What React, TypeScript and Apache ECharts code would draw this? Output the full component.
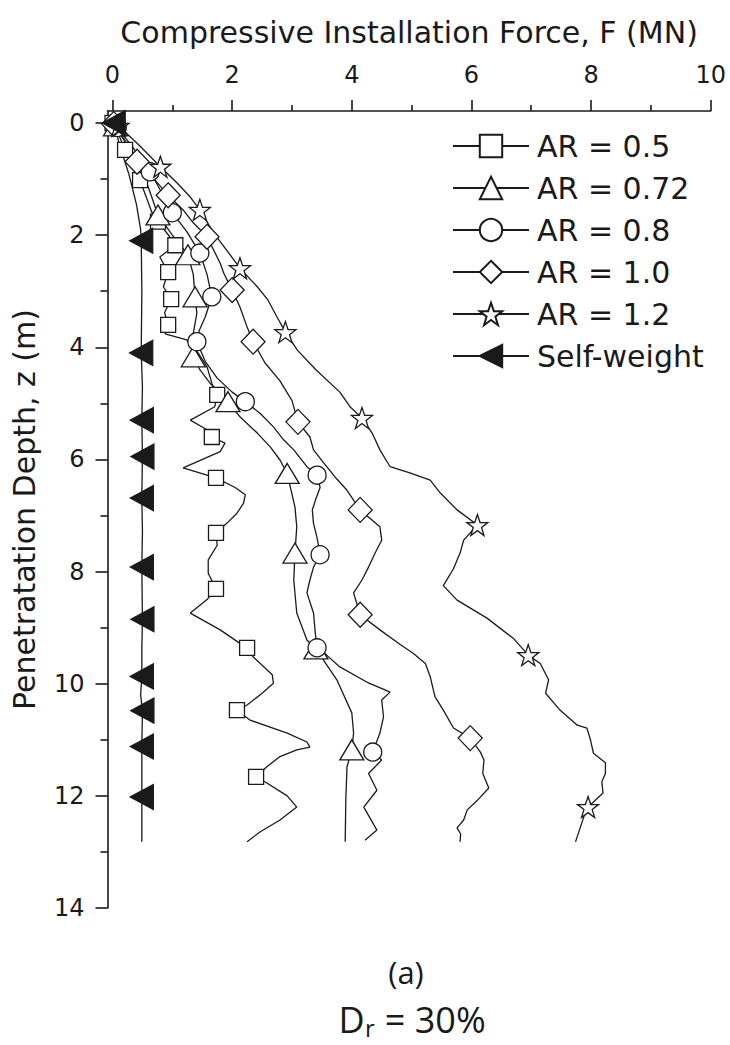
import React, { useEffect, useRef } from "react";
import * as echarts from "echarts";

// ---------- data: [F (MN), z (m), marker flag] ----------
const ar05: number[][] = [
  [0, 0, 1], [0.08, 0.15, 0], [0.21, 0.48, 1], [0.33, 0.78, 0], [0.46, 1.02, 1], [0.58, 1.37, 0], [0.66, 1.6, 0],
  [0.76, 1.76, 1], [0.95, 2.02, 0], [1.05, 2.18, 1], [0.79, 2.39, 0], [0.93, 2.66, 1], [0.85, 2.92, 0],
  [0.98, 3.14, 1], [0.87, 3.38, 0], [0.93, 3.6, 1], [0.88, 3.76, 0], [1.24, 3.87, 0], [1.43, 4.1, 0],
  [1.58, 4.35, 0], [1.66, 4.64, 0], [1.75, 4.85, 1], [1.71, 5.06, 0], [1.3, 5.3, 0], [1.58, 5.47, 0],
  [1.66, 5.6, 1], [1.88, 5.71, 0], [1.8, 5.86, 0], [1.18, 6.15, 0], [1.73, 6.33, 1], [2.05, 6.5, 0],
  [2.22, 6.63, 0], [2.19, 6.78, 0], [2.08, 6.96, 0], [1.91, 7.14, 0], [1.73, 7.31, 1], [1.75, 7.53, 0],
  [1.6, 7.79, 0], [1.6, 8.03, 0], [1.73, 8.31, 1], [1.58, 8.5, 0], [1.3, 8.74, 0], [1.8, 9.04, 0],
  [2.13, 9.28, 0], [2.25, 9.36, 1], [2.35, 9.52, 0], [2.67, 9.84, 0], [2.69, 9.99, 0], [2.5, 10.17, 0],
  [2.25, 10.38, 0], [2.08, 10.47, 1], [2.3, 10.65, 0], [2.92, 10.88, 0], [3.25, 11.04, 0], [3.3, 11.13, 0],
  [3.08, 11.18, 0], [2.8, 11.3, 0], [2.58, 11.48, 0], [2.4, 11.66, 1], [2.58, 11.77, 0], [2.92, 12.0, 0],
  [3.08, 12.2, 0], [2.8, 12.43, 0], [2.47, 12.64, 0], [2.25, 12.82, 0],
];

const ar072: number[][] = [
  [0.05, 0.05, 1], [0.3, 0.5, 0], [0.55, 1.0, 0], [0.76, 1.64, 1], [1.0, 2.0, 0], [1.26, 2.35, 1],
  [1.35, 2.7, 0], [1.38, 3.1, 1], [1.41, 3.39, 0], [1.35, 3.75, 0], [1.35, 4.17, 1], [1.46, 4.4, 0],
  [1.63, 4.64, 0], [1.8, 4.82, 0], [1.93, 4.97, 1], [2.13, 5.24, 0], [2.42, 5.53, 0], [2.64, 5.78, 0],
  [2.8, 6.01, 0], [2.92, 6.25, 1], [3.05, 6.85, 0], [3.08, 7.2, 0], [3.05, 7.67, 1], [3.03, 8.15, 0],
  [3.08, 8.74, 0], [3.25, 9.22, 0], [3.4, 9.38, 1], [3.75, 9.93, 0], [4.0, 10.52, 0], [4.03, 10.88, 0],
  [4.0, 11.18, 1], [3.92, 11.48, 0], [3.9, 12.07, 0], [3.89, 12.82, 0],
];

const ar08: number[][] = [
  [0.08, 0.08, 1], [0.35, 0.45, 0], [0.63, 0.87, 1], [0.8, 1.2, 0], [1.0, 1.6, 1], [1.25, 1.95, 0],
  [1.46, 2.32, 1], [1.58, 2.7, 0], [1.66, 3.1, 1], [1.55, 3.46, 0], [1.45, 3.7, 0], [1.41, 3.9, 1],
  [1.55, 4.25, 0], [1.75, 4.55, 0], [2.0, 4.8, 0], [2.22, 4.97, 1], [2.47, 5.18, 0], [2.69, 5.42, 0],
  [2.86, 5.65, 0], [3.03, 5.83, 0], [3.25, 6.13, 0], [3.42, 6.28, 1], [3.47, 6.5, 0], [3.4, 6.7, 0],
  [3.34, 6.9, 0], [3.36, 7.14, 0], [3.42, 7.4, 0], [3.47, 7.7, 1], [3.36, 7.92, 0], [3.3, 8.15, 0],
  [3.25, 8.38, 0], [3.36, 8.74, 0], [3.39, 9.1, 0], [3.42, 9.36, 1], [3.58, 9.49, 0], [3.8, 9.7, 0],
  [4.25, 9.97, 0], [4.64, 10.15, 0], [4.5, 10.29, 0], [4.53, 10.59, 0], [4.47, 10.88, 0], [4.35, 11.22, 1],
  [4.5, 11.36, 0], [4.28, 11.6, 0], [4.42, 11.9, 0], [4.2, 12.2, 0], [4.42, 12.61, 0], [4.22, 12.79, 0],
];

const ar10: number[][] = [
  [0.02, 0.02, 1], [0.2, 0.3, 0], [0.41, 0.69, 1], [0.68, 0.98, 0], [0.93, 1.29, 1], [1.18, 1.55, 0],
  [1.35, 1.78, 0], [1.58, 2.03, 1], [1.8, 2.5, 0], [1.86, 2.68, 0], [2.0, 2.98, 1], [2.13, 3.28, 0],
  [2.25, 3.64, 0], [2.35, 3.9, 1], [2.55, 4.28, 0], [2.8, 4.6, 0], [3.0, 4.95, 0], [3.1, 5.33, 1],
  [3.3, 5.6, 0], [3.36, 5.83, 0], [3.53, 6.06, 0], [3.75, 6.35, 0], [3.92, 6.55, 0], [4.14, 6.9, 1],
  [4.47, 7.2, 0], [4.5, 7.44, 0], [4.39, 7.67, 0], [4.28, 7.92, 0], [4.17, 8.15, 0], [4.03, 8.38, 0],
  [4.14, 8.77, 1], [4.47, 9.04, 0], [4.81, 9.3, 0], [5.03, 9.46, 0], [5.23, 9.64, 0], [5.31, 9.87, 0],
  [5.39, 10.23, 0], [5.53, 10.47, 0], [5.7, 10.79, 0], [5.98, 10.97, 1], [6.15, 11.22, 0], [6.21, 11.36, 0],
  [6.19, 11.6, 0], [6.29, 11.86, 0], [6.1, 12.08, 0], [5.93, 12.25, 0], [5.87, 12.43, 0], [5.76, 12.57, 0],
  [5.82, 12.68, 0], [5.81, 12.82, 0],
];

const ar12: number[][] = [
  [0.1, 0.05, 1], [0.45, 0.4, 0], [0.8, 0.78, 1], [1.08, 1.07, 0], [1.3, 1.32, 0], [1.46, 1.55, 1],
  [1.69, 1.96, 0], [1.91, 2.27, 0], [2.13, 2.59, 1], [2.42, 2.92, 0], [2.6, 3.16, 0], [2.75, 3.46, 0],
  [2.89, 3.73, 1], [3.09, 4.05, 0], [3.4, 4.4, 0], [3.8, 4.8, 0], [3.97, 5.06, 0], [4.17, 5.26, 1],
  [4.34, 5.53, 0], [4.47, 5.83, 0], [4.64, 6.13, 0], [4.97, 6.24, 0], [5.31, 6.37, 0], [5.48, 6.6, 0],
  [5.76, 6.9, 0], [6.1, 7.17, 1], [5.87, 7.44, 0], [5.81, 7.67, 0], [5.7, 7.95, 0], [5.53, 8.25, 0],
  [5.76, 8.51, 0], [6.26, 8.83, 0], [6.71, 9.2, 0], [6.95, 9.49, 1], [7.15, 9.64, 0], [7.29, 9.93, 0],
  [7.24, 10.17, 0], [7.48, 10.47, 0], [7.77, 10.74, 0], [7.93, 10.79, 0], [7.99, 11.0, 0], [8.04, 11.24, 0],
  [8.24, 11.41, 0], [8.24, 11.6, 0], [8.18, 11.75, 0], [8.2, 11.95, 0], [7.95, 12.2, 1], [7.88, 12.37, 0],
  [7.74, 12.82, 0],
];

const selfWeight: number[][] = [
  [0.02, 0.0, 1], [0.12, 0.4, 0], [0.27, 0.9, 0], [0.4, 1.45, 0], [0.47, 1.9, 0], [0.48, 2.1, 1],
  [0.49, 3.0, 0], [0.48, 4.1, 1], [0.5, 4.7, 0], [0.49, 5.3, 1], [0.5, 5.95, 1], [0.49, 6.69, 1],
  [0.5, 7.3, 0], [0.49, 7.92, 1], [0.5, 8.85, 1], [0.49, 9.4, 0], [0.49, 9.87, 1], [0.47, 10.2, 0],
  [0.5, 10.48, 1], [0.49, 11.12, 1], [0.49, 12.02, 1], [0.49, 12.82, 0],
];

const seriesNames = ["AR = 0.5", "AR = 0.72", "AR = 0.8", "AR = 1.0", "AR = 1.2", "Self-weight"];
const xTickMin = 0;
const xTickMax = 10;
const xTickStep = 2;
const yTickMin = 0;
const yTickMax = 14;
const yTickStep = 2;

const xTitle = "Compressive Installation Force, F (MN)";
const yTitle = "Penetratation Depth, z (m)";
const panelLabel = "(a)";
const drMain = "D";
const drSub = "r";
const drRest = " = 30%";

const STAR = "path://M12,0L14.9,8.3L23.4,8.3L16.5,13.5L19.1,21.8L12,16.7L4.9,21.8L7.5,13.5L0.6,8.3L9.1,8.3Z";
const INK = "#1a1a1a";
const FONT = "DejaVu Sans";
const SUB_FONT = "Open Sans";
const X_MIN = -0.084;
const Y_MIN = -0.214;

const toData = (pts: number[][]) =>
  pts.map(([f, z, m]) => (m ? [f, z] : { value: [f, z], symbol: "none" }));

export default function App() {
  const ref = useRef<HTMLDivElement>(null);

  useEffect(() => {
    if (!ref.current) return;
    const chart = echarts.init(ref.current, undefined, { renderer: "svg" });

    const mk = (name: string, pts: number[][], symbol: string, size: any, fill = "#fff", rotate = 0) => ({
      name,
      type: "line",
      xAxisIndex: 0,
      yAxisIndex: 0,
      data: toData(pts),
      symbol,
      symbolSize: size,
      symbolRotate: rotate,
      showSymbol: true,
      clip: false,
      lineStyle: { color: INK, width: 1.3 },
      itemStyle: { color: fill, borderColor: INK, borderWidth: 1.3 },
      emphasis: { disabled: true },
    });

    const axisLineStyle = { color: INK, width: 1.6 };
    const hiddenLine = { show: true, onZero: false, lineStyle: { color: "rgba(0,0,0,0)", width: 0 } };
    const dummy = (xi: number, yi: number) => ({
      type: "line",
      xAxisIndex: xi,
      yAxisIndex: yi,
      data: [[0, 0]],
      symbol: "none",
      silent: true,
      lineStyle: { opacity: 0 },
    });

    chart.setOption({
      animation: false,
      backgroundColor: "#fff",
      grid: [
        // main plotting area (axes meet at the corner)
        { left: 107.5, top: 111, width: 603.2, height: 797 },
        // x tick grid: 0..10 exactly
        { left: 112.5, top: 111, width: 598.2, height: 797 },
        // y tick grid: 0..14 exactly
        { left: 107.5, top: 123, width: 603.2, height: 785 },
      ],
      legend: {
        orient: "vertical",
        left: 447,
        top: 126,
        itemWidth: 76,
        itemHeight: 28,
        itemGap: 12,
        data: seriesNames,
        selectedMode: false,
        textStyle: { fontFamily: FONT, fontSize: 30, color: INK, padding: [0, 0, 0, 3] },
      },
      xAxis: [
        {
          gridIndex: 0,
          type: "value",
          position: "top",
          min: X_MIN,
          max: 10,
          name: xTitle,
          nameLocation: "middle",
          nameGap: 64,
          nameTextStyle: { fontFamily: FONT, fontSize: 30, color: INK },
          axisLine: { show: true, onZero: false, lineStyle: axisLineStyle },
          axisTick: { show: false },
          axisLabel: { show: false },
          splitLine: { show: false },
        },
        {
          gridIndex: 1,
          type: "value",
          position: "top",
          min: xTickMin,
          max: xTickMax,
          interval: xTickStep,
          axisLine: hiddenLine,
          axisTick: { show: true, length: 11, lineStyle: axisLineStyle },
          minorTick: { show: true, splitNumber: 2, length: 6, lineStyle: axisLineStyle },
          axisLabel: { margin: 24, fontFamily: FONT, fontSize: 24, color: INK },
          splitLine: { show: false },
          minorSplitLine: { show: false },
        },
        {
          gridIndex: 2,
          type: "value",
          show: false,
          min: xTickMin,
          max: xTickMax,
          axisLine: { onZero: false },
        },
      ],
      yAxis: [
        {
          gridIndex: 0,
          type: "value",
          inverse: true,
          min: Y_MIN,
          max: 14,
          name: yTitle,
          nameLocation: "middle",
          nameGap: 68,
          nameTextStyle: { fontFamily: FONT, fontSize: 30, color: INK },
          axisLine: { show: true, onZero: false, lineStyle: axisLineStyle },
          axisTick: { show: false },
          axisLabel: { show: false },
          splitLine: { show: false },
        },
        {
          gridIndex: 1,
          type: "value",
          show: false,
          min: yTickMin,
          max: yTickMax,
          axisLine: { onZero: false },
        },
        {
          gridIndex: 2,
          type: "value",
          inverse: true,
          position: "left",
          min: yTickMin,
          max: yTickMax,
          interval: yTickStep,
          axisLine: hiddenLine,
          axisTick: { show: true, length: 12, lineStyle: axisLineStyle },
          minorTick: { show: true, splitNumber: 2, length: 7, lineStyle: axisLineStyle },
          axisLabel: { margin: 23, fontFamily: FONT, fontSize: 24, color: INK },
          splitLine: { show: false },
          minorSplitLine: { show: false },
        },
      ],
      series: [
        mk(seriesNames[0], ar05, "rect", 15),
        mk(seriesNames[1], ar072, "triangle", [24, 20]),
        mk(seriesNames[2], ar08, "circle", 18),
        mk(seriesNames[3], ar10, "diamond", [24, 25]),
        mk(seriesNames[4], ar12, STAR, 21),
        mk(seriesNames[5], selfWeight, "triangle", [25, 23], INK, 90),
        dummy(1, 1),
        dummy(2, 2),
      ],
      graphic: [
        {
          type: "text",
          x: 406,
          y: 972,
          style: {
            text: panelLabel,
            fontFamily: SUB_FONT,
            fontSize: 31,
            lineHeight: 32,
            fill: INK,
            align: "center",
            verticalAlign: "middle",
          },
        },
        {
          type: "text",
          x: 338.5,
          y: 1019,
          style: {
            text: drMain, fontFamily: SUB_FONT, fontSize: 36, lineHeight: 38,
            fill: INK, align: "left", verticalAlign: "middle",
          },
        },
        {
          type: "text",
          x: 365,
          y: 1027,
          style: {
            text: drSub, fontFamily: SUB_FONT, fontSize: 24, lineHeight: 26,
            fill: INK, align: "left", verticalAlign: "middle",
          },
        },
        {
          type: "text",
          x: 375.5,
          y: 1019,
          style: {
            text: drRest, fontFamily: SUB_FONT, fontSize: 36, lineHeight: 38,
            fill: INK, align: "left", verticalAlign: "middle",
          },
        },
      ],
    } as any);

    return () => chart.dispose();
  }, []);

  return (
    <div
      ref={ref}
      style={{ position: "absolute", left: 0, top: 0, width: 730, height: 1045, background: "#fff" }}
    />
  );
}
